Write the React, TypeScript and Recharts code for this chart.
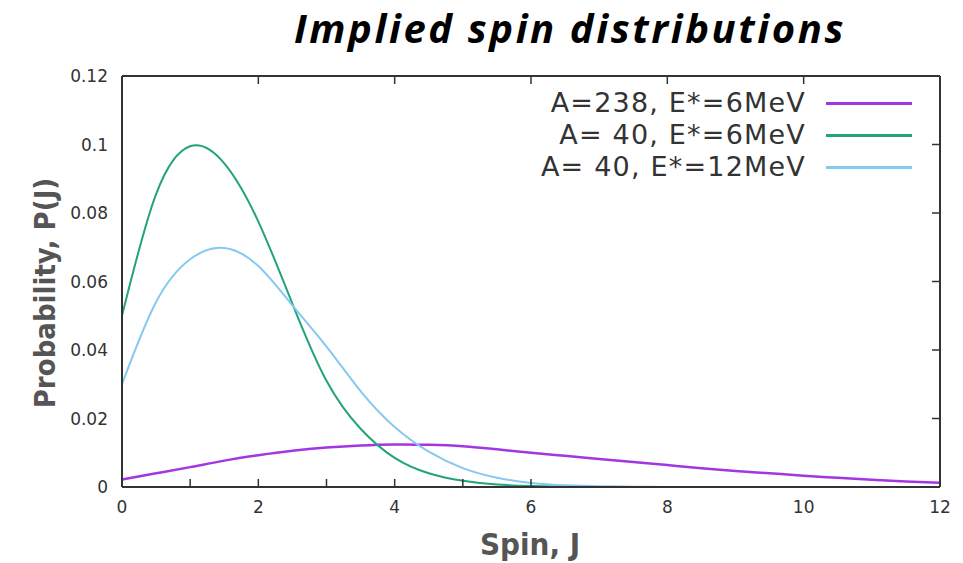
import { LineChart, Line, XAxis, YAxis, ReferenceLine } from 'recharts'

// spin J, sampled every 0.5
const spinJ = [
  0, 0.5, 1, 1.5, 2, 2.5, 3, 3.5, 4, 4.5, 5, 5.5, 6,
  6.5, 7, 7.5, 8, 8.5, 9, 9.5, 10, 10.5, 11, 11.5, 12,
]

// P(J)
const pA238E6 = [
  0.0022, 0.004, 0.0058, 0.0077, 0.0093, 0.0106, 0.0115, 0.0121, 0.0124, 0.0123, 0.0119, 0.011, 0.01,
  0.0091, 0.0082, 0.0073, 0.0064, 0.0055, 0.0047, 0.004, 0.0033, 0.0027, 0.0021, 0.0016, 0.0012,
]
const pA40E6 = [
  0.05, 0.0855, 0.0995, 0.0945, 0.0775, 0.0535, 0.031, 0.017, 0.0085, 0.004, 0.0018, 0.0007, 0.0003,
  0.0001, 0, 0, 0, 0, 0, 0, 0, 0, 0, 0, 0,
]
const pA40E12 = [
  0.03, 0.054, 0.0665, 0.0698, 0.0645, 0.053, 0.041, 0.028, 0.0175, 0.0103, 0.0055, 0.0027, 0.0012,
  0.0005, 0.0002, 0.0001, 0, 0, 0, 0, 0, 0, 0, 0, 0,
]

const xTicks = [0, 2, 4, 6, 8, 10, 12]
const yTicks = [0, 0.02, 0.04, 0.06, 0.08, 0.1, 0.12]
const X_MAX = 12
const Y_MAX = 0.12

const SERIES = [
  { key: 'a238e6', label: 'A=238, E*=6MeV', color: '#a436e2', width: 2.5 },
  { key: 'a40e6', label: 'A= 40, E*=6MeV', color: '#22a37a', width: 2 },
  { key: 'a40e12', label: 'A= 40, E*=12MeV', color: '#86c9f0', width: 2 },
]

const data = spinJ.map((j, i) => ({
  j,
  a238e6: pA238E6[i],
  a40e6: pA40E6[i],
  a40e12: pA40E12[i],
}))

const W = 963
const H = 563
const M = { top: 76, right: 23, bottom: 46, left: 62 }
const X_AXIS_H = 30
const Y_AXIS_W = 60
const TICK = 8
// 8px tick length expressed in data units for the top/right mirror ticks
const tickDy = (TICK / (H - M.top - M.bottom - X_AXIS_H)) * Y_MAX
const tickDx = (TICK / (W - M.left - M.right - Y_AXIS_W)) * X_MAX

const axisFont = "'DejaVu Sans', sans-serif"
const labelFont = "'DejaVu Sans Condensed', 'DejaVu Sans', sans-serif"
const tickStyle = { fontSize: 17, fill: '#333', fontFamily: axisFont }
const frame = { stroke: '#333', strokeWidth: 2 }
const tickLine = { stroke: '#333', strokeWidth: 1.5 }

const noLabel = () => <g />

export default function App() {
  return (
    <div style={{ position: 'absolute', left: 0, top: 0, width: W, height: H, background: '#fff' }}>
      <div
        style={{
          position: 'absolute', left: 570, top: 8, transform: 'translateX(-50%)',
          fontFamily: "'Open Sans', sans-serif", fontWeight: 700, fontStyle: 'italic',
          fontSize: 40, lineHeight: 1, letterSpacing: 2.6, whiteSpace: 'nowrap', color: '#000',
        }}
      >
        Implied spin distributions
      </div>

      <LineChart width={W} height={H} data={data} margin={M}>
        <XAxis
          xAxisId="b" dataKey="j" type="number" domain={[0, X_MAX]} ticks={xTicks}
          height={X_AXIS_H} tickSize={0} tickMargin={14} tick={tickStyle}
          axisLine={frame} tickLine={false}
        />
        <YAxis
          yAxisId="l" type="number" domain={[0, Y_MAX]} ticks={yTicks}
          width={Y_AXIS_W} tickSize={0} tickMargin={14} tick={tickStyle}
          axisLine={frame} tickLine={false}
        />
        {/* inward ticks, bottom and left */}
        <XAxis
          xAxisId="bm" type="number" domain={[0, X_MAX]} ticks={xTicks} mirror
          height={1} tickSize={TICK} tick={noLabel} axisLine={false} tickLine={tickLine}
        />
        <YAxis
          yAxisId="lm" type="number" domain={[0, Y_MAX]} ticks={yTicks} mirror
          width={1} tickSize={TICK} tick={noLabel} axisLine={false} tickLine={tickLine}
        />
        {/* top and right frame */}
        <XAxis
          xAxisId="t" orientation="top" type="number" domain={[0, X_MAX]} ticks={xTicks} mirror
          height={1} tick={false} axisLine={frame} tickLine={false}
        />
        <YAxis
          yAxisId="r" orientation="right" type="number" domain={[0, Y_MAX]} ticks={yTicks} mirror
          width={1} tick={false} axisLine={frame} tickLine={false}
        />
        {xTicks.slice(1, -1).map(t => (
          <ReferenceLine
            key={'tx' + t} xAxisId="b" yAxisId="l" ifOverflow="visible" {...tickLine}
            segment={[{ x: t, y: Y_MAX }, { x: t, y: Y_MAX - tickDy }]}
          />
        ))}
        {yTicks.slice(1, -1).map(t => (
          <ReferenceLine
            key={'ry' + t} xAxisId="b" yAxisId="l" ifOverflow="visible" {...tickLine}
            segment={[{ x: X_MAX, y: t }, { x: X_MAX - tickDx, y: t }]}
          />
        ))}
        {SERIES.map(s => (
          <Line
            key={s.key} xAxisId="b" yAxisId="l" type="natural" dataKey={s.key}
            stroke={s.color} strokeWidth={s.width} dot={false} isAnimationActive={false}
          />
        ))}
      </LineChart>

      <div style={{ position: 'absolute', right: 51, top: 87 }}>
        {SERIES.map(s => (
          <div key={s.key} style={{ display: 'flex', alignItems: 'center', justifyContent: 'flex-end', height: 32 }}>
            <span
              style={{
                fontFamily: axisFont, fontSize: 27, lineHeight: '32px', color: '#333',
                whiteSpace: 'pre', letterSpacing: 1.2,
              }}
            >
              {s.label}
            </span>
            <span style={{ display: 'inline-block', width: 86, height: 3, background: s.color, marginLeft: 20 }} />
          </div>
        ))}
      </div>

      <div
        style={{
          position: 'absolute', left: 45, top: 293, transform: 'translate(-50%, -50%) rotate(-90deg)',
          fontFamily: labelFont, fontStretch: 'condensed', fontWeight: 700, fontSize: 29,
          lineHeight: 1, whiteSpace: 'nowrap', color: '#555',
        }}
      >
        Probability, P(J)
      </div>
      <div
        style={{
          position: 'absolute', left: 530, top: 529, transform: 'translateX(-50%)',
          fontFamily: labelFont, fontStretch: 'condensed', fontWeight: 700, fontSize: 31,
          lineHeight: 1, whiteSpace: 'nowrap', color: '#555',
        }}
      >
        Spin, J
      </div>
    </div>
  )
}
